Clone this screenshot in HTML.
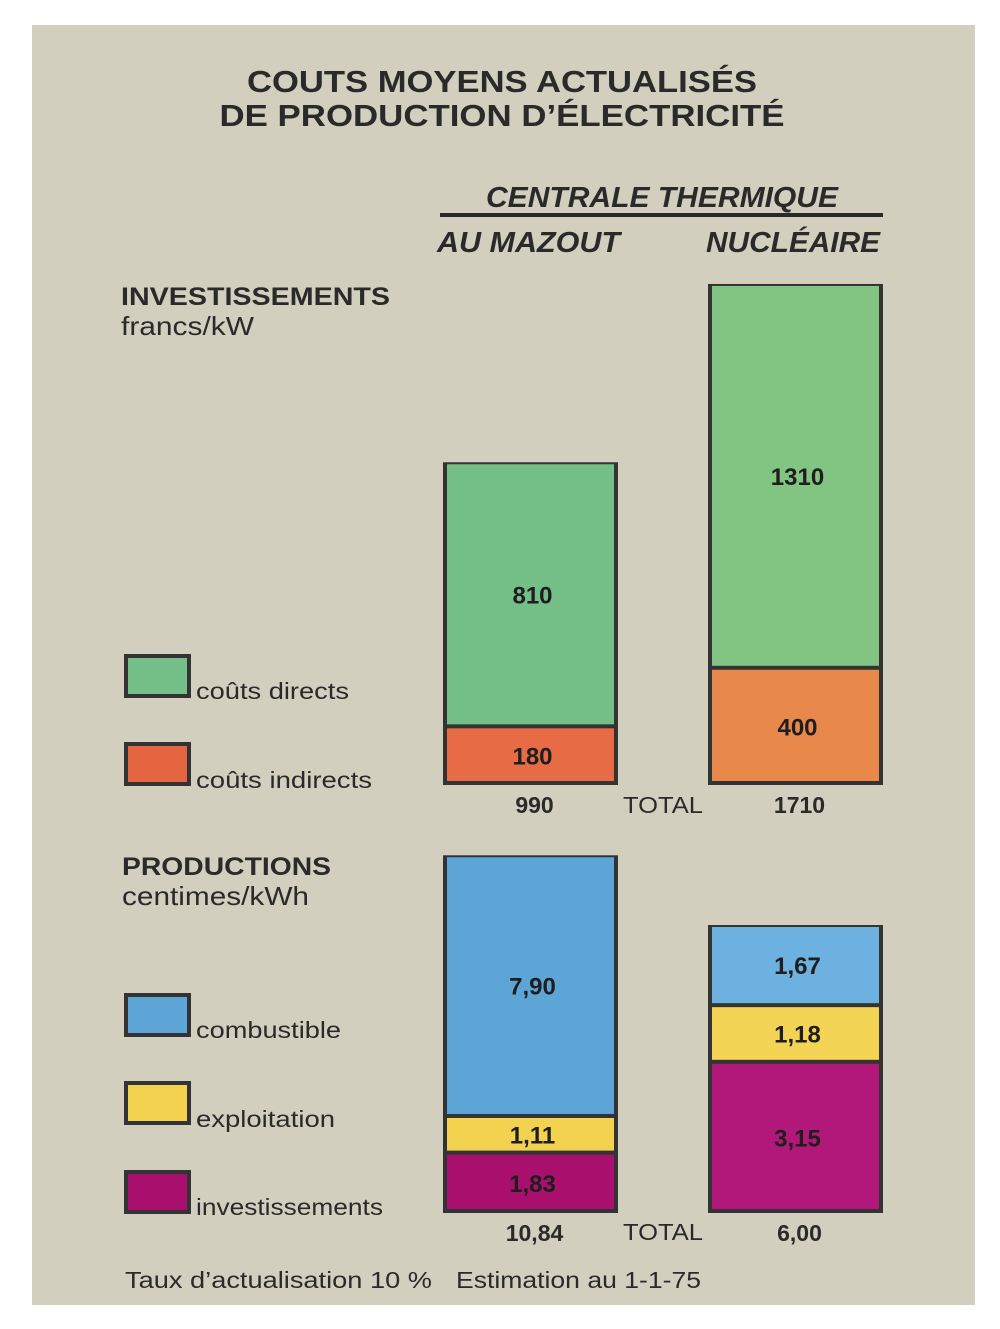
<!DOCTYPE html>
<html><head><meta charset="utf-8"><style>
html,body{margin:0;padding:0;background:#fff;}
svg{display:block;font-family:"Liberation Sans",sans-serif;}
</style></head><body>
<svg id="chart" width="1000" height="1329" viewBox="0 0 1000 1329">
<rect x="32" y="25" width="943" height="1280" fill="#d3cfbe"/>
<g fill="#2a2a2a">
<text x="502" y="92" text-anchor="middle" font-size="31" font-weight="bold" textLength="510" lengthAdjust="spacingAndGlyphs">COUTS MOYENS ACTUALISÉS</text>
<text x="502" y="126" text-anchor="middle" font-size="31" font-weight="bold" textLength="565" lengthAdjust="spacingAndGlyphs">DE PRODUCTION D’ÉLECTRICITÉ</text>
<text x="662" y="207" text-anchor="middle" font-size="29" font-weight="bold" font-style="italic" textLength="352" lengthAdjust="spacingAndGlyphs">CENTRALE THERMIQUE</text>
<rect x="440" y="213" width="443" height="4"/>
<text x="437" y="252" font-size="29" font-weight="bold" font-style="italic" textLength="183" lengthAdjust="spacingAndGlyphs">AU MAZOUT</text>
<text x="706" y="252" font-size="29" font-weight="bold" font-style="italic" textLength="174" lengthAdjust="spacingAndGlyphs">NUCLÉAIRE</text>
<text x="121" y="305" font-size="25" font-weight="bold" textLength="269" lengthAdjust="spacingAndGlyphs">INVESTISSEMENTS</text>
<text x="121" y="335" font-size="26" textLength="133" lengthAdjust="spacingAndGlyphs">francs/kW</text>
<text x="122" y="875" font-size="25" font-weight="bold" textLength="209" lengthAdjust="spacingAndGlyphs">PRODUCTIONS</text>
<text x="122" y="905" font-size="26" textLength="187" lengthAdjust="spacingAndGlyphs">centimes/kWh</text>
<text x="125" y="1288" font-size="23" textLength="307" lengthAdjust="spacingAndGlyphs">Taux d’actualisation 10 %</text>
<text x="456" y="1288" font-size="23" textLength="245" lengthAdjust="spacingAndGlyphs">Estimation au 1-1-75</text>
</g>
<g id="legend"></g>
<g id="bars"></g>
</svg>
<script>
// Investment data (francs/kW), stacked bottom->top: indirects, directs
const invCategories = ["AU MAZOUT", "NUCLÉAIRE"];
const invIndirect = [180, 400];
const invDirect = [810, 1310];
const invTotals = ["990", "1710"];
// Production data (centimes/kWh), stacked bottom->top: investissements, exploitation, combustible
const prodInvest = [1.83, 3.15];
const prodExploit = [1.11, 1.18];
const prodFuel = [7.90, 1.67];
const prodTotals = ["10,84", "6,00"];

const NS = "http://www.w3.org/2000/svg";
const bars = document.getElementById("bars");
const legend = document.getElementById("legend");
const colX = [443, 708];
const colW = 175;
const invBase = 785;
const prodBase = 1213;
// per-column drawing scales (the original poster is not drawn to a common scale)
const invScale = [0.326, 0.293];
const prodScale = [33, 48];
function yInv(v, c) { return invScale[c] * v; }
function yProd(v, c) { return prodScale[c] * v; }
function fmt(v) { return v.toFixed(2).replace(".", ","); }

function mk(tag, attrs, parent) {
  const e = document.createElementNS(NS, tag);
  for (const k in attrs) e.setAttribute(k, attrs[k]);
  parent.appendChild(e);
  return e;
}

function drawStack(c, base, segs, scaleFn, totalLabel, kind) {
  let y = base;
  const total = segs.reduce((s, g) => s + g.v, 0);
  const topY = base - scaleFn(total, c);
  const frame = mk("rect", {x: colX[c], y: topY, width: colW, height: base - topY, fill: "#333"}, bars);
  
  
  segs.forEach((g, i) => {
    const h = scaleFn(g.v, c);
    const y0 = y - h;
    const r = mk("rect", {x: colX[c] + 4, y: y0 + 2, width: colW - 8, height: Math.max(0, h - (i === 0 ? 6 : 4)), fill: g.col[c]}, bars);
    
    
    const t = mk("text", {x: colX[c] + colW / 2 + 2, y: y0 + h / 2 + 9, "text-anchor": "middle", "font-size": 24, "font-weight": "bold", fill: "#1e1e1e"}, bars);
    t.textContent = g.label;
    
    
    y = y0;
  });
  const tt = mk("text", {x: colX[c] + colW / 2 + 4, y: base + 28, "text-anchor": "middle", "font-size": 23, "font-weight": "bold", fill: "#2a2a2a"}, bars);
  tt.textContent = totalLabel;
  
  
}

for (let c = 0; c < 2; c++) {
  drawStack(c, invBase, [
    {v: invIndirect[c], label: String(invIndirect[c]), name: "indirect", col: ["#e76c46", "#e9884b"]},
    {v: invDirect[c], label: String(invDirect[c]), name: "direct", col: ["#74bf88", "#82c482"]}
  ], yInv, invTotals[c], "investment");
  drawStack(c, prodBase, [
    {v: prodInvest[c], label: fmt(prodInvest[c]), name: "investissements", col: ["#a90f6c", "#b2177a"]},
    {v: prodExploit[c], label: fmt(prodExploit[c]), name: "exploitation", col: ["#f3d24f", "#f4d455"]},
    {v: prodFuel[c], label: fmt(prodFuel[c]), name: "combustible", col: ["#5ea5d7", "#6cb1df"]}
  ], yProd, prodTotals[c], "production");
}
[["investment", 813], ["production", 1240]].forEach(([k, y]) => {
  const t = mk("text", {x: 623, y: y, "font-size": 23, fill: "#2a2a2a", textLength: 80, lengthAdjust: "spacingAndGlyphs"}, bars);
  t.textContent = "TOTAL";
  
  
});

const legendItems = [
  ["coûts directs", "#74bf88", 656, 699, 153],
  ["coûts indirects", "#e4653f", 744, 788, 176],
  ["combustible", "#5ea5d7", 995, 1038, 145],
  ["exploitation", "#f3d24f", 1083, 1127, 139],
  ["investissements", "#a90f6c", 1172, 1215, 187]
];
legendItems.forEach(([label, col, y, ty, w]) => {
  const b = mk("rect", {x: 126, y: y, width: 63, height: 40, fill: col, stroke: "#333", "stroke-width": 4}, legend);
  
  
  const t = mk("text", {x: 196, y: ty, "font-size": 23, fill: "#2a2a2a", textLength: w, lengthAdjust: "spacingAndGlyphs"}, legend);
  t.textContent = label;
  
  
});
</script>
</body></html>
